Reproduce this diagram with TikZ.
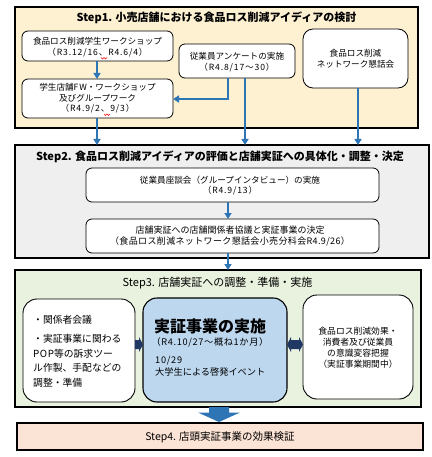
\documentclass[tikz,border=0pt]{standalone}
\usepackage{fontspec}
\setmainfont{Noto Sans CJK JP}
\usetikzlibrary{arrows.meta,shapes.arrows}
\newcommand{\lsp}[2][10]{{\addfontfeature{LetterSpace=#1}#2}}
\definecolor{sone}{HTML}{FEF1D2}
\definecolor{stwo}{HTML}{EFEFEF}
\definecolor{sthree}{HTML}{E9F1DF}
\definecolor{sfour}{HTML}{FBE3D5}
\definecolor{cblue}{HTML}{BDD7EE}
\definecolor{ablue}{HTML}{2E75B6}
\definecolor{navy}{HTML}{203864}
\tikzset{
  stepbox/.style={draw=black, line width=1.1pt},
  sbox/.style={draw=black, line width=0.8pt, fill=white, rounded corners=6pt},
  bigbox/.style={draw=black, line width=0.9pt, fill=white, rounded corners=14pt},
  txt/.style={font=\fontsize{8.6}{10.5}\selectfont, align=center, inner sep=0pt},
  ttl/.style={font=\fontsize{11}{13}\selectfont\bfseries, inner sep=0pt},
  conn/.style={draw=ablue, line width=2pt, -{Triangle[length=6pt,width=7pt]}},
}
\begin{document}
\begin{tikzpicture}[x=1pt,y=-1pt]
\useasboundingbox (0,0) rectangle (431,457);
\fill[white] (0,0) rectangle (431,457);
% Step 1
\draw[stepbox, fill=sone] (15,7) rectangle (418,128);
\node[ttl] (t1) at (216.5,17.5) {Step1. 小売店舗における食品ロス削減アイディアの検討};
\draw[sbox] (22,31) rectangle (173,61);
\node[txt] (a) at (97.5,47) {食品ロス削減学生ワークショップ\\\lsp{（R3.12/16、R4.6/4）}};
\coordinate (aB) at (97,61);
\draw[sbox] (22,79) rectangle (173,118);
\node[txt] (b) at (97.5,98.5) {学生店舗\lsp{FW}・ワークショップ\\及びグループワーク\\\lsp{（R4.9/2、9/3）}};
\coordinate (bT) at (97,79);
\coordinate (bB) at (97,118);
\coordinate (bR) at (173,99);
\draw[sbox] (179,44) rectangle (295,78);
\node[txt] (c) at (237,62) {従業員アンケートの実施\\\lsp{（R4.8/17～30）}};
\coordinate (cB1) at (228,78);
\coordinate (cB2) at (245,78);
\draw[sbox, rounded corners=10pt] (303,29) rectangle (408,88);
\node[txt] (d) at (355.5,58.5) {食品ロス削減\\ネットワーク懇話会};
\coordinate (dB) at (358,88);
% small red squiggles
\draw[red, line width=0.5pt] (101,57.5) -- ++(1.5,1.5) -- ++(1.5,-1.5) -- ++(1.5,1.5) -- ++(1.5,-1.5);
\draw[red, line width=0.5pt] (104,114) -- ++(1.5,1.5) -- ++(1.5,-1.5) -- ++(1.5,1.5) -- ++(1.5,-1.5);
% Step 2
\draw[stepbox, fill=stwo] (15,145) rectangle (429,258);
\node[ttl] (t2) at (220,157) {Step2. 食品ロス削減アイディアの評価と店舗実証への具体化・調整・決定};
\draw[sbox] (86,168) rectangle (379,202);
\node[txt] (e) at (230,185.5) {従業員座談会（グループインタビュー）の実施\\\lsp{（R4.9/13）}};
\coordinate (eB) at (228,202);
\draw[sbox] (86,219) rectangle (379,253);
\node[txt, font=\fontsize{9}{11}\selectfont] (f) at (230,236) {店舗実証への店舗関係者協議と実証事業の決定\\\lsp[4]{（食品ロス削減ネットワーク懇話会小売分科会R4.9/26）}};
\coordinate (fT) at (228,219);
\coordinate (fB) at (228,253);
% connectors step1 -> step2
\coordinate (s2a) at (97,145);
\coordinate (s2b) at (245,145);
\coordinate (s2c) at (358,145);
\draw[conn] (aB) -- (bT);
\draw[conn] (cB1) |- (bR);
\draw[conn] (bB) -- (s2a);
\draw[conn] (cB2) -- (s2b);
\draw[conn] (dB) -- (s2c);
\draw[conn] (eB) -- (fT);
% Step 3
\draw[stepbox, fill=sthree] (15,270) rectangle (421,407);
\coordinate (s3T) at (228,270);
\draw[conn] (fB) -- (s3T);
\node[ttl, font=\fontsize{11}{13}\selectfont] (t3) at (217.5,283) {Step3. 店舗実証への調整・準備・実施};
\draw[bigbox] (23,299) rectangle (135,402);
\node[txt, font=\fontsize{9.8}{14.5}\selectfont, align=left, anchor=north west] (g) at (33,315) {・関係者会議\\[5pt]・実証事業に関わる\\\lsp[6]{POP}等の訴求ツー\\ル作製、手配などの\\調整・準備};
\draw[bigbox, fill=cblue, line width=1.1pt] (143,298) rectangle (287,402);
\node[txt, font=\fontsize{16}{18}\selectfont\bfseries] (h1) at (210,326) {実証事業の実施};
\node[txt, font=\fontsize{9.2}{11}\selectfont] (h2) at (210,342) {\lsp[7]{（R4.10/27～概ね1か月）}};
\node[txt, font=\fontsize{9.2}{11.5}\selectfont, align=left, anchor=north west] (h3) at (155,356) {\lsp[8]{10/29}\\大学生による啓発イベント};
\draw[bigbox] (303,295) rectangle (413,399);
\node[txt, font=\fontsize{8.8}{11}\selectfont] (i) at (358,348) {食品ロス削減効果・\\消費者及び従業員\\の意識変容把握\\（実証事業期間中）};
% navy block arrows
\fill[navy] (135,340) -- (139,340) -- (139,337) -- (143,344.5) -- (139,352) -- (139,349) -- (135,349) -- cycle;
\fill[navy] (287,344.5) -- (291,337) -- (291,340) -- (299,340) -- (299,337) -- (303,344.5) -- (299,352) -- (299,349) -- (291,349) -- (291,352) -- cycle;
% big arrow to step 4
\fill[ablue] (209,407) -- (229,407) -- (229,412.5) -- (240,412.5) -- (219,422) -- (198,412.5) -- (209,412.5) -- cycle;
% Step 4
\draw[stepbox, fill=sfour] (17,423) rectangle (423,450);
\node[ttl, font=\fontsize{10.5}{12}\selectfont] (t4) at (220,437) {Step4. 店頭実証事業の効果検証};
\end{tikzpicture}
\end{document}
